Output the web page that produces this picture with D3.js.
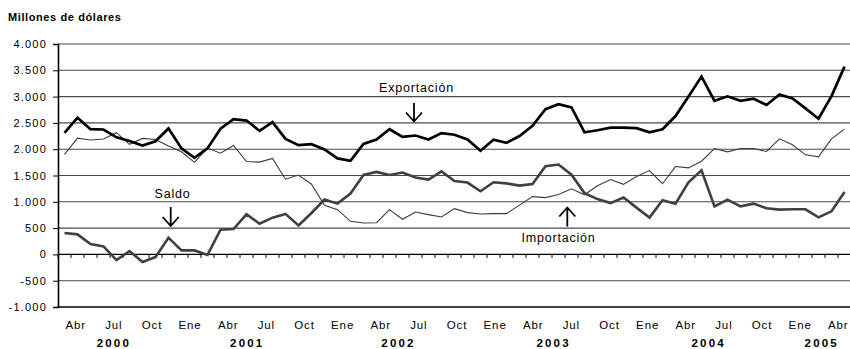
<!DOCTYPE html>
<html>
<head>
<meta charset="utf-8">
<script src="https://cdn.jsdelivr.net/npm/d3@7/dist/d3.min.js"></script>
<style>
  html, body { margin: 0; padding: 0; background: #fff; }
  svg { display: block; font-family: "Liberation Sans", Arial, sans-serif; }
</style>
</head>
<body>
<svg id="chart" width="850" height="349"></svg>
<script>
// Monthly series, April 2000 – April 2005 (millions of dollars)
const exportacion = [
  2310, 2600, 2380, 2375, 2225, 2155, 2070, 2150, 2395, 2015, 1835, 2015,
  2390, 2570, 2545, 2350, 2515, 2195, 2076, 2095, 1995, 1825, 1780, 2100,
  2185, 2380, 2235, 2260, 2185, 2305, 2275, 2185, 1970, 2180, 2120, 2250,
  2445, 2760, 2855, 2795, 2320, 2360, 2410, 2410, 2400, 2320, 2380, 2630,
  3000, 3380, 2920, 3005, 2920, 2960, 2840, 3040, 2965, 2775, 2580, 3010,
  3570
];
const importacion = [
  1900, 2210, 2175, 2195, 2315, 2092, 2205, 2185, 2062, 1952, 1750, 2022,
  1925, 2070, 1766, 1755, 1823, 1430, 1508, 1334,  935,  851,  629,  598,
   603,  851,  667,  806,  756,  711,  870,  794,  768,  775,  775,  937,
  1099, 1080, 1140, 1248, 1134, 1305, 1423, 1331, 1480, 1594, 1343, 1670,
  1645, 1772, 2013, 1949, 2013, 2013, 1956, 2197, 2083, 1893, 1854, 2197,
  2381
];
const saldo = [
   406,  381,  197,  152, -108,   64, -146,  -51,  318,   76,   76,  -10,
   470,  483,  762,  584,  699,  770,  552,  787, 1042,  965, 1156, 1511,
  1568, 1511, 1556, 1461, 1423, 1578, 1394, 1366, 1200, 1372, 1350, 1308,
  1340, 1676, 1709, 1515, 1165, 1051,  975, 1080,  889,  699, 1029,  965,
  1370, 1600,  914, 1042,  914,  965,  876,  851,  857,  857,  705,  819,
  1187
];

// Category keys: one per month
const months = d3.timeMonth.range(new Date(2000, 3, 1), new Date(2005, 4, 1));

// Axis labels
const yTicks = [4000, 3500, 3000, 2500, 2000, 1500, 1000, 500, 0, -500, -1000];
const quarterNames = ["Abr", "Jul", "Oct", "Ene"];
const yearTicks = [
  { year: "2000", at: 3.0 },
  { year: "2001", at: 13.5 },
  { year: "2002", at: 25.4 },
  { year: "2003", at: 37.6 },
  { year: "2004", at: 49.8 },
  { year: "2005", at: 58.7 }
];

const svg = d3.select("#chart");
const plotL = 58, plotR = 851, plotT = 44, plotB = 307;

const x = d3.scalePoint().domain(d3.range(months.length)).range([plotL, plotR]).padding(0.5);
const y = d3.scaleLinear().domain([-1000, 4000]).range([plotB, plotT]);
// row of month labels under the axis
const xl = d3.scaleLinear().domain([0, months.length - 1]).range([75.7, 838.3]);

const fmt = d3.formatLocale({ decimal: ",", thousands: ".", grouping: [3], currency: ["$", ""], minus: "-" }).format(",d");

// horizontal gridlines
svg.append("g")
  .selectAll("line")
  .data(yTicks.filter(v => v !== -1000 && v !== 0))
  .join("line")
  .attr("x1", plotL).attr("x2", plotR)
  .attr("y1", d => y(d)).attr("y2", d => y(d))
  .attr("stroke", "#4a4a4a").attr("stroke-width", 1.1);

// y axis with outward ticks
const yAxis = d3.axisLeft(y).tickValues(yTicks).tickSize(5).tickPadding(6).tickFormat(fmt);
const gy = svg.append("g").attr("transform", `translate(${plotL},0)`).call(yAxis);
gy.select(".domain").attr("stroke", "#000").attr("stroke-width", 1.6);
gy.selectAll(".tick line").attr("stroke", "#000");
gy.selectAll(".tick text")
  .attr("font-size", 11).attr("fill", "#000")
  .style("letter-spacing", "1.2px")
  .attr("font-family", "Liberation Sans, Arial, sans-serif");

// zero line with monthly tick marks
const gz = svg.append("g").attr("transform", `translate(0,${y(0)})`);
gz.append("line").attr("x1", plotL).attr("x2", plotR).attr("stroke", "#000").attr("stroke-width", 1.1);
gz.selectAll("line.mt")
  .data(d3.range(months.length + 1))
  .join("line").attr("class", "mt")
  .attr("x1", i => plotL + i * x.step()).attr("x2", i => plotL + i * x.step())
  .attr("y1", 0).attr("y2", 3.5)
  .attr("stroke", "#000").attr("stroke-width", 1);

// bottom axis line
svg.append("line")
  .attr("x1", plotL - 1).attr("x2", plotR)
  .attr("y1", y(-1000)).attr("y2", y(-1000))
  .attr("stroke", "#000").attr("stroke-width", 1.6);

// month labels every quarter
svg.append("g")
  .selectAll("text")
  .data(d3.range(0, months.length, 3))
  .join("text")
  .attr("x", i => xl(i)).attr("y", 329)
  .attr("text-anchor", "middle")
  .attr("font-size", 11.5)
  .style("letter-spacing", "0.9px")
  .text((i, k) => quarterNames[k % 4]);

// year labels
svg.append("g")
  .selectAll("text")
  .data(yearTicks)
  .join("text")
  .attr("x", d => xl(d.at)).attr("y", 346.5)
  .attr("text-anchor", "middle")
  .attr("font-size", 11.5).attr("font-weight", "bold")
  .style("letter-spacing", "2.2px")
  .text(d => d.year);

// unit label
svg.append("text")
  .attr("x", 8).attr("y", 21)
  .attr("font-size", 11).attr("font-weight", "bold")
  .style("letter-spacing", "0.6px")
  .text("Millones de dólares");

// series
const line = d3.line().x((d, i) => x(i)).y(d => y(d));
const series = [
  { values: importacion, color: "#3c3c3c", width: 1.1 },
  { values: saldo, color: "#404040", width: 2.6 },
  { values: exportacion, color: "#000", width: 2.7 }
];
svg.append("g")
  .selectAll("path")
  .data(series)
  .join("path")
  .attr("d", d => line(d.values))
  .attr("fill", "none")
  .attr("stroke", d => d.color)
  .attr("stroke-width", d => d.width)
  .attr("stroke-linejoin", "miter");

// callouts: label with an open arrow pointing at the series
function callout(label, lx, ly, ax, y0, y1) {
  const g = svg.append("g");
  g.append("text").attr("x", lx).attr("y", ly).attr("text-anchor", "middle")
    .attr("font-size", 12.5).style("letter-spacing", "0.8px").text(label);
  const dir = Math.sign(y1 - y0);
  g.append("path")
    .attr("d", `M${ax},${y0}V${y1}M${ax - 8},${y1 - dir * 9}L${ax},${y1}L${ax + 8},${y1 - dir * 9}`)
    .attr("fill", "none").attr("stroke", "#000").attr("stroke-width", 1.8);
}
callout("Exportación", 416.5, 92, 414, 103, 121.5);
callout("Saldo", 172.5, 197.5, 170.7, 207, 226);
callout("Importación", 558.5, 242, 567.3, 226.5, 207.5);
</script>
</body>
</html>
